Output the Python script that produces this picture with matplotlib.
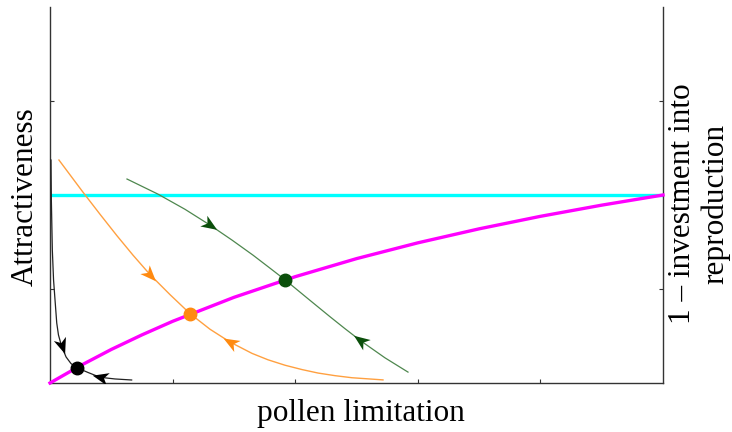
import numpy as np
import matplotlib
matplotlib.use('Agg')
import matplotlib.pyplot as plt
from matplotlib.path import Path
from matplotlib.markers import MarkerStyle
from matplotlib.transforms import Affine2D

plt.rcParams['font.family'] = ['Liberation Serif', 'DejaVu Serif']

# curva magenta (isoclina) e linha ciano
mag_x = [0, 0.25, 0.5, 0.75, 1.0, 1.5, 2.0, 2.5, 3.0, 3.5, 4.0, 4.5, 5.0]
mag_y = [0, 0.186, 0.357, 0.512, 0.656, 0.911, 1.131, 1.323, 1.491, 1.640, 1.773, 1.892, 2.0]
cyan_x = [0, 5]
cyan_y = [2, 2]

# trajetorias
lar_x = [0.073, 0.269, 0.408, 0.546, 0.677, 0.816, 0.979, 1.142, 1.305, 1.468,
         1.648, 1.778, 1.917, 2.055, 2.186, 2.325, 2.463, 2.716]
lar_y = [2.372, 2.030, 1.795, 1.567, 1.360, 1.153, 0.940, 0.738, 0.572, 0.436,
         0.315, 0.247, 0.189, 0.143, 0.106, 0.078, 0.056, 0.033]
ver_x = [0.628, 0.881, 1.101, 1.305, 1.485, 1.656, 1.794, 1.917, 2.104, 2.284,
         2.406, 2.529, 2.732, 2.920]
ver_y = [2.170, 2.009, 1.848, 1.680, 1.520, 1.360, 1.222, 1.098, 0.897, 0.705,
         0.578, 0.454, 0.268, 0.116]
pre_x = [0.008, 0.011, 0.019, 0.029, 0.041, 0.055, 0.069, 0.094, 0.131, 0.171,
         0.218, 0.310, 0.408, 0.530, 0.666]
pre_y = [2.372, 1.947, 1.415, 1.096, 0.883, 0.638, 0.511, 0.394, 0.277, 0.207,
         0.163, 0.112, 0.061, 0.043, 0.032]

# pontos de equilibrio
eq_x = [0.218, 1.142, 1.917]
eq_y = [0.163, 0.738, 1.098]

# setas: (indice, sentido)
lar_setas = [(5, 1), (9, -1)]
ver_setas = [(3, 1), (11, -1)]
pre_setas = [(7, 1), (12, -1)]

fig = plt.figure(figsize=(7.32, 4.32), dpi=100)
ax = fig.add_axes([50/732, 49/432, 613/732, 376/432])
ax.set_xlim(0, 5)
ax.set_ylim(0, 4)

ax.plot(cyan_x, cyan_y, color='#00FFFF', lw=2.4, zorder=2)
ax.plot(lar_x, lar_y, color='#FFA040', lw=1.0, zorder=3, solid_joinstyle='round')
ax.plot(ver_x, ver_y, color='#4E874E', lw=0.9, zorder=3, solid_joinstyle='round')
ax.plot(pre_x, pre_y, color='#222222', lw=0.9, zorder=3, solid_joinstyle='round')
ax.plot(mag_x, mag_y, color='#FF00FF', lw=2.4, zorder=4, clip_on=False)

cores_eq = ['black', '#FF8A10', '#0B4F0B']
for x, y, c in zip(eq_x, eq_y, cores_eq):
    ax.plot(x, y, 'o', color=c, ms=9, mec=c, zorder=6, clip_on=False)

seta = Path([(1, 0), (-1, 0.8), (-0.45, 0), (-1, -0.8), (1, 0)],
            [Path.MOVETO, Path.LINETO, Path.LINETO, Path.LINETO, Path.CLOSEPOLY])


def desenha_setas(xs, ys, setas, cor):
    for i, s in setas:
        p0 = ax.transData.transform((xs[i-1], ys[i-1]))
        p1 = ax.transData.transform((xs[i+1], ys[i+1]))
        d = (p1 - p0) * s
        ang = np.degrees(np.arctan2(d[1], d[0]))
        m = MarkerStyle(seta, transform=Affine2D().rotate_deg(ang))
        ax.plot(xs[i], ys[i], marker=m, color=cor, ms=11.5, mew=0, zorder=5)


desenha_setas(lar_x, lar_y, lar_setas, '#FF8A10')
desenha_setas(ver_x, ver_y, ver_setas, '#0B4F0B')
desenha_setas(pre_x, pre_y, pre_setas, 'black')

ax.spines['top'].set_visible(False)
for s in ['left', 'right', 'bottom']:
    ax.spines[s].set_color('#333333')
    ax.spines[s].set_linewidth(1.0)
ax.set_xticks([1, 2, 3, 4])
ax.set_yticks([1, 2, 3])
ax.tick_params(direction='in', length=3, width=0.8, color='#333333',
               labelbottom=False, labelleft=False, right=True)

ax.text(0.507, -0.08, 'pollen limitation', transform=ax.transAxes,
        ha='center', va='center', fontsize=22.5)
ax.text(-0.041, 0.495, 'Attractiveness', transform=ax.transAxes,
        ha='center', va='center', rotation=90, fontsize=22.5)
ax.text(1.059, 0.476, '1 \u2013 investment into\nreproduction', transform=ax.transAxes,
        ha='center', va='center', rotation=90, fontsize=22.5, multialignment='center')

fig.savefig('out.png', dpi=100)
